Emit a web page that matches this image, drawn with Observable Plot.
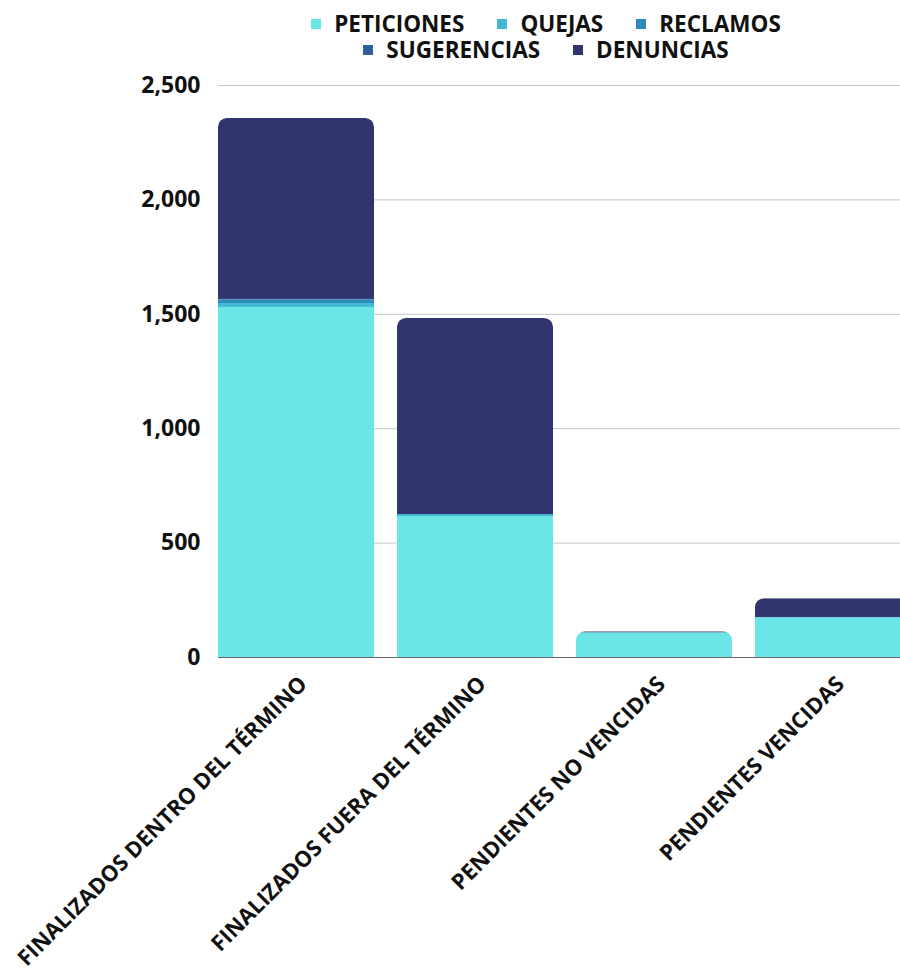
<!DOCTYPE html>
<html>
<head>
<meta charset="utf-8">
<script src="https://cdn.jsdelivr.net/npm/d3@7"></script>
<script src="https://cdn.jsdelivr.net/npm/@observablehq/plot@0.6"></script>
<style>
  html, body { margin: 0; padding: 0; background: #fff; overflow: hidden; width: 900px; height: 972px; }
  #wrap { position: relative; width: 900px; height: 972px; overflow: hidden; font-family: "Open Sans", sans-serif; }
  #legend { position: absolute; top: 11px; left: 218px; width: 656px; font-weight: 700; font-size: 22.5px; color: #111; z-index: 2; }
  .row { display: flex; justify-content: center; gap: 33px; line-height: 26px; }
  .item { display: flex; align-items: center; gap: 13px; white-space: nowrap; }
  .sw { width: 10px; height: 10px; display: inline-block; }
  #chart { position: absolute; top: 0; left: 0; width: 912px; }
  #chart svg { max-width: none !important; }
</style>
</head>
<body>
<div id="wrap">
  <div id="legend"></div>
  <div id="chart"></div>
</div>
<script>
const categories = ["FINALIZADOS DENTRO DEL TÉRMINO", "FINALIZADOS FUERA DEL TÉRMINO", "PENDIENTES NO VENCIDAS", "PENDIENTES VENCIDAS"];
const series = ["PETICIONES", "QUEJAS", "RECLAMOS", "SUGERENCIAS", "DENUNCIAS"];
const peticiones = [1530, 616, 108, 172];
const quejas = [17, 9, 0, 3];
const reclamos = [16, 0, 0, 0];
const sugerencias = [2, 0, 0, 0];
const denuncias = [791, 857, 4, 82];
const colors = ["#6ce5e8", "#41b8d5", "#2d8bba", "#2f5f98", "#31356e"];
const yTicks = [0, 500, 1000, 1500, 2000, 2500];
const legendRows = [["PETICIONES", "QUEJAS", "RECLAMOS"], ["SUGERENCIAS", "DENUNCIAS"]];

const seriesValues = [peticiones, quejas, reclamos, sugerencias, denuncias];
const rows = categories.flatMap((c, i) => series.map((s, j) => ({cat: c, serie: s, value: seriesValues[j][i]})));
const totals = categories.map((c, i) => ({cat: c, total: d3.sum(seriesValues, v => v[i])}));

// legend
const legend = document.getElementById("legend");
for (const r of legendRows) {
  const row = document.createElement("div");
  row.className = "row";
  for (const s of r) {
    const it = document.createElement("div");
    it.className = "item";
    const sw = document.createElement("span");
    sw.className = "sw";
    sw.style.background = colors[series.indexOf(s)];
    const t = document.createElement("span");
    t.textContent = s;
    it.appendChild(sw); it.appendChild(t);
    row.appendChild(it);
  }
  legend.appendChild(row);
}

const plot = Plot.plot({
  width: 912,
  height: 972,
  marginLeft: 218,
  marginRight: 1,
  marginTop: 85,
  marginBottom: 315,
  style: {fontFamily: "Open Sans", fontWeight: "bold", color: "#111", background: "transparent", maxWidth: "none"},
  x: {domain: categories, paddingInner: 0.1285, paddingOuter: 0, label: null},
  y: {domain: [0, 2500], label: null},
  color: {domain: series, range: colors},
  marks: [
    Plot.gridY(yTicks, {stroke: "#c8c8c8", strokeOpacity: 1}),
    Plot.barY(rows, {x: "cat", y: "value", fill: "serie"}),
    Plot.barY(totals, {x: "cat", y: "total", fill: "none", insetBottom: -20}),
    Plot.ruleY([0], {stroke: "#666", strokeWidth: 1}),
    Plot.axisY(yTicks, {tickSize: 0, tickPadding: 18, tickFormat: d3.format(","), fontSize: 23, fontWeight: "bold", fill: "#111"}),
    Plot.axisX({tickSize: 0, tickRotate: -45, tickPadding: 23, dx: 7, fontSize: 22, fontWeight: "bold", fill: "#111"})
  ]
});

// clip stacked bars with rounded-top copies of the total bars
const bars = plot.querySelectorAll('g[aria-label="bar"]');
const stackG = bars[0], clipG = bars[1];
if (clipG && stackG) {
  const ns = "http://www.w3.org/2000/svg";
  const defs = document.createElementNS(ns, "defs");
  const cp = document.createElementNS(ns, "clipPath");
  cp.setAttribute("id", "roundTops");
  cp.setAttribute("clipPathUnits", "userSpaceOnUse");
  const tr = clipG.getAttribute("transform");
  for (const el of clipG.querySelectorAll("rect")) {
    const c = el.cloneNode(true);
    c.setAttribute("rx", 9);
    c.setAttribute("ry", 9);
    if (tr) c.setAttribute("transform", tr);
    cp.appendChild(c);
  }
  defs.appendChild(cp);
  plot.insertBefore(defs, plot.firstChild);
  const st = stackG.getAttribute("transform");
  const wrapper = document.createElementNS(ns, "g");
  wrapper.setAttribute("clip-path", "url(#roundTops)");
  if (st) wrapper.setAttribute("transform", st);
  stackG.parentNode.insertBefore(wrapper, stackG);
  wrapper.appendChild(stackG);
  if (st) stackG.removeAttribute("transform");
  clipG.remove();
}

document.getElementById("chart").appendChild(plot);
</script>
</body>
</html>
